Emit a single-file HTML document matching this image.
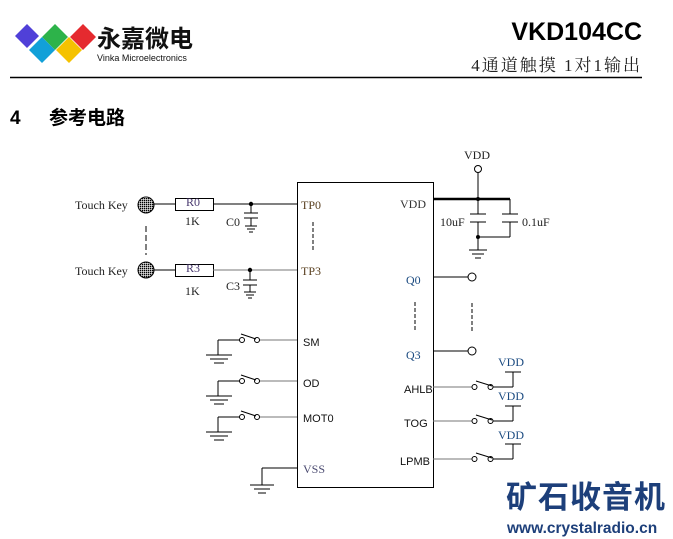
<!DOCTYPE html>
<html><head><meta charset="utf-8"><style>
html,body{margin:0;padding:0;background:#fff;}
svg{display:block;}
.s{font-family:"Liberation Serif","Noto Serif CJK SC",serif;}
.a{font-family:"Liberation Sans","Noto Sans CJK SC",sans-serif;}
</style></head><body>
<svg width="673" height="539" viewBox="0 0 673 539" xmlns="http://www.w3.org/2000/svg">
<defs>
<pattern id="dot" width="2" height="2" patternUnits="userSpaceOnUse"><rect width="2" height="2" fill="#fff"/><rect width="1.4" height="1.4" fill="#000"/></pattern>
</defs>
<!-- logo -->
<polygon points="15,36 27,24 39,36 27,48" fill="#5040d8"/>
<polygon points="42,37 55,24 68,37 55,50" fill="#2db34a"/>
<polygon points="70,37 83,24 96,37 83,50" fill="#e52a2f"/>
<polygon points="29,50 42,37 55,50 42,63" fill="#12a0d8"/>
<polygon points="56,50 69,37 82,50 69,63" fill="#f5c200"/>
<text x="97" y="47" class="a" font-size="24" font-weight="bold" fill="#111">永嘉微电</text>
<text x="97" y="61" class="a" font-size="9" fill="#111">Vinka Microelectronics</text>
<text x="642" y="40" class="a" font-size="25" font-weight="bold" text-anchor="end" fill="#000">VKD104CC</text>
<text x="642" y="71" class="s" font-size="17" letter-spacing="2" text-anchor="end" fill="#222">4通道触摸 1对1输出</text>
<line x1="10" y1="77.5" x2="642" y2="77.5" stroke="#000" stroke-width="1.5"/>
<text x="10" y="124" class="a" font-size="19" font-weight="bold">4</text>
<text x="49" y="124" class="a" font-size="19" font-weight="bold">参考电路</text>

<g stroke="#000" stroke-width="1" fill="none">
<rect x="297.5" y="182.5" width="136" height="305"/>
<line x1="154" y1="204" x2="175" y2="204"/>
<rect x="175.5" y="198.5" width="38" height="12"/>
<line x1="213" y1="204" x2="297" y2="204"/>
<line x1="251" y1="204" x2="251" y2="213"/>
<line x1="244" y1="213" x2="258" y2="213"/>
<line x1="244" y1="218" x2="258" y2="218"/>
<line x1="251" y1="218" x2="251" y2="226"/>
<line x1="245" y1="226" x2="257" y2="226"/><line x1="247" y1="229" x2="255" y2="229"/><line x1="249" y1="232" x2="253" y2="232"/>
<line x1="154" y1="270" x2="175" y2="270"/>
<rect x="175.5" y="264.5" width="38" height="12"/>
<line x1="213" y1="270" x2="297" y2="270" stroke="#777"/>
<line x1="250" y1="270" x2="250" y2="280"/>
<line x1="243" y1="280" x2="257" y2="280"/>
<line x1="243" y1="285" x2="257" y2="285"/>
<line x1="250" y1="285" x2="250" y2="292"/>
<line x1="244" y1="292" x2="256" y2="292"/><line x1="246" y1="295" x2="254" y2="295"/><line x1="248" y1="298" x2="252" y2="298"/>
<line x1="146" y1="226" x2="146" y2="255" stroke-dasharray="6,3"/>
<line x1="313" y1="222" x2="313" y2="250" stroke-dasharray="4,2"/>
<line x1="433" y1="199" x2="510" y2="199" stroke-width="2.5"/>
<circle cx="478" cy="169" r="3.5"/>
<line x1="478" y1="172.5" x2="478" y2="214"/>
<line x1="470" y1="214" x2="486" y2="214"/><line x1="470" y1="222" x2="486" y2="222"/>
<line x1="478" y1="222" x2="478" y2="250"/>
<line x1="510" y1="199" x2="510" y2="214"/>
<line x1="502" y1="214" x2="518" y2="214"/><line x1="502" y1="222" x2="518" y2="222"/>
<line x1="510" y1="222" x2="510" y2="237"/><line x1="478" y1="237" x2="510" y2="237"/>
<line x1="469" y1="250" x2="487" y2="250"/><line x1="472" y1="254" x2="484" y2="254"/><line x1="475" y1="258" x2="481" y2="258"/>
<line x1="433" y1="277" x2="468" y2="277"/><circle cx="472" cy="277" r="4"/>
<line x1="433" y1="351" x2="468" y2="351"/><circle cx="472" cy="351" r="4"/>
<line x1="415" y1="302" x2="415" y2="332" stroke-dasharray="4,2"/>
<line x1="472" y1="303" x2="472" y2="333" stroke-dasharray="4,2"/>
<g>
<line x1="433" y1="387" x2="472" y2="387" stroke="#777"/><circle cx="474.5" cy="387" r="2.5"/><circle cx="490.5" cy="387" r="2.5"/><line x1="476" y1="381" x2="492" y2="386"/><line x1="493" y1="387" x2="513" y2="387"/><line x1="513" y1="387" x2="513" y2="372"/><line x1="505" y1="372" x2="521" y2="372"/>
</g>
<g transform="translate(0,34)">
<line x1="433" y1="387" x2="472" y2="387" stroke="#777"/><circle cx="474.5" cy="387" r="2.5"/><circle cx="490.5" cy="387" r="2.5"/><line x1="476" y1="381" x2="492" y2="386"/><line x1="493" y1="387" x2="513" y2="387"/><line x1="513" y1="387" x2="513" y2="372"/><line x1="505" y1="372" x2="521" y2="372"/>
</g>
<g transform="translate(0,72)">
<line x1="433" y1="387" x2="472" y2="387" stroke="#777"/><circle cx="474.5" cy="387" r="2.5"/><circle cx="490.5" cy="387" r="2.5"/><line x1="476" y1="381" x2="492" y2="386"/><line x1="493" y1="387" x2="513" y2="387"/><line x1="513" y1="387" x2="513" y2="372"/><line x1="505" y1="372" x2="521" y2="372"/>
</g>
<g>
<line x1="297" y1="340" x2="259" y2="340" stroke="#777"/><circle cx="257" cy="340" r="2.5"/><circle cx="242" cy="340" r="2.5"/><line x1="241" y1="334" x2="256" y2="339"/><line x1="239.5" y1="340" x2="218" y2="340"/><line x1="218" y1="340" x2="218" y2="355"/><line x1="206" y1="355" x2="232" y2="355"/><line x1="210" y1="359" x2="228" y2="359"/><line x1="214" y1="363" x2="224" y2="363"/>
</g>
<g transform="translate(0,41)">
<line x1="297" y1="340" x2="259" y2="340" stroke="#777"/><circle cx="257" cy="340" r="2.5"/><circle cx="242" cy="340" r="2.5"/><line x1="241" y1="334" x2="256" y2="339"/><line x1="239.5" y1="340" x2="218" y2="340"/><line x1="218" y1="340" x2="218" y2="355"/><line x1="206" y1="355" x2="232" y2="355"/><line x1="210" y1="359" x2="228" y2="359"/><line x1="214" y1="363" x2="224" y2="363"/>
</g>
<g transform="translate(0,77)">
<line x1="297" y1="340" x2="259" y2="340" stroke="#777"/><circle cx="257" cy="340" r="2.5"/><circle cx="242" cy="340" r="2.5"/><line x1="241" y1="334" x2="256" y2="339"/><line x1="239.5" y1="340" x2="218" y2="340"/><line x1="218" y1="340" x2="218" y2="355"/><line x1="206" y1="355" x2="232" y2="355"/><line x1="210" y1="359" x2="228" y2="359"/><line x1="214" y1="363" x2="224" y2="363"/>
</g>
<line x1="297" y1="468" x2="262" y2="468"/><line x1="262" y1="468" x2="262" y2="485"/>
<line x1="250" y1="485" x2="274" y2="485"/><line x1="254" y1="489" x2="270" y2="489"/><line x1="258" y1="493" x2="266" y2="493"/>
</g>
<circle cx="146" cy="205" r="8" fill="url(#dot)" stroke="#000"/>
<circle cx="146" cy="270" r="8" fill="url(#dot)" stroke="#000"/>
<circle cx="251" cy="204" r="2.2"/><circle cx="250" cy="270" r="2.2"/>
<circle cx="478" cy="199" r="2"/><circle cx="478" cy="237" r="2"/>

<g class="s" font-size="12" fill="#222">
<text x="75" y="209">Touch Key</text>
<text x="75" y="275">Touch Key</text>
<text x="186" y="206" fill="#4a3a70">R0</text>
<text x="186" y="272" fill="#4a3a70">R3</text>
<text x="185" y="225">1K</text>
<text x="185" y="295">1K</text>
<text x="226" y="226">C0</text>
<text x="226" y="290">C3</text>
<text x="301" y="209" fill="#5a4020">TP0</text>
<text x="301" y="275" fill="#5a4020">TP3</text>
<text x="400" y="208" fill="#333">VDD</text>
<text x="464" y="159">VDD</text>
<text x="440" y="226">10uF</text>
<text x="522" y="226">0.1uF</text>
<text x="406" y="284" fill="#1a4a80">Q0</text>
<text x="406" y="359" fill="#1a4a80">Q3</text>
<text x="498" y="366" fill="#1a4a80">VDD</text>
<text x="498" y="400" fill="#1a4a80">VDD</text>
<text x="498" y="439" fill="#1a4a80">VDD</text>
<text x="303" y="473" fill="#4a4a70">VSS</text>
</g>
<g class="a" font-size="11" fill="#111">
<text x="303" y="346">SM</text>
<text x="303" y="387">OD</text>
<text x="303" y="422">MOT0</text>
<text x="404" y="393">AHLB</text>
<text x="404" y="427">TOG</text>
<text x="400" y="465">LPMB</text>
</g>
<text x="506" y="508" class="a" font-size="31" font-weight="bold" letter-spacing="1" fill="#1d3f7a">矿石收音机</text>
<text x="507" y="533" class="a" font-size="15.5" font-weight="bold" fill="#1d3f7a">www.crystalradio.cn</text>
</svg>
</body></html>
